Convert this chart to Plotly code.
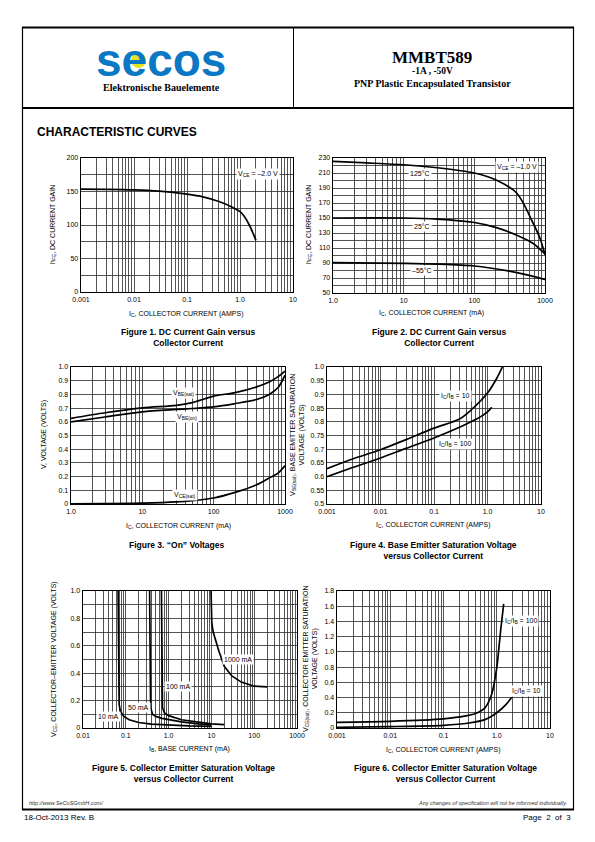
import numpy as np
import plotly.graph_objects as go

W, H = 595, 842

# ---------------- data ----------------
# Figure 1: DC current gain vs collector current (AMPS), VCE = -2.0 V
f1_ic = [0.001, 0.003, 0.01, 0.03, 0.1, 0.2, 0.4, 0.7, 1.0, 1.2, 1.5, 1.8, 2.0]
f1_hfe = [153.5, 153.3, 152.5, 150.5, 146, 142, 135, 127, 120, 113, 100, 86, 77]
f1_xticklabels = ["0.001", "0.01", "0.1", "1.0", "10"]
f1_yticklabels = ["0", "50", "100", "150", "200"]

# Figure 2: DC current gain vs collector current (mA), VCE = -1.0 V
f2_ic_125 = [1, 3, 10, 30, 100, 200, 400, 680, 850, 1000]
f2_hfe_125 = [225.5, 223.5, 221, 217, 210, 201, 183, 143, 123, 101]
f2_ic_25 = [1, 10, 30, 100, 200, 400, 680, 1000]
f2_hfe_25 = [150, 150, 148.5, 144, 137.5, 127, 116, 102]
f2_ic_m55 = [1, 10, 30, 100, 300, 600, 1000]
f2_hfe_m55 = [90.6, 89.5, 88.5, 86, 79.5, 73.5, 68]
f2_xticklabels = ["1.0", "10", "100", "1000"]
f2_yticklabels = ["50", "70", "90", "110", "130", "150", "170", "190", "210", "230"]

# Figure 3: "On" voltages vs collector current (mA)
f3_ic = [1, 3, 10, 30, 50, 100, 200, 400, 600, 800, 1000]
f3_vbe_sat = [0.625, 0.666, 0.702, 0.72, 0.74, 0.787, 0.813, 0.855, 0.89, 0.93, 0.97]
f3_vbe_on = [0.60, 0.635, 0.673, 0.69, 0.697, 0.709, 0.733, 0.763, 0.80, 0.85, 0.94]
f3_vce_sat = [0.002, 0.003, 0.006, 0.015, 0.024, 0.044, 0.085, 0.14, 0.19, 0.225, 0.28]
f3_xticklabels = ["1.0", "10", "100", "1000"]
f3_yticklabels = ["0", "0.1", "0.2", "0.3", "0.4", "0.5", "0.6", "0.7", "0.8", "0.9", "1.0"]

# Figure 4: base emitter saturation voltage vs collector current (AMPS)
f4_ic_10 = [0.001, 0.003, 0.01, 0.03, 0.1, 0.3, 0.5, 1.0, 1.5, 1.9]
f4_v_10 = [0.629, 0.664, 0.698, 0.735, 0.777, 0.81, 0.844, 0.905, 0.96, 1.0]
f4_ic_100 = [0.001, 0.003, 0.01, 0.03, 0.1, 0.3, 0.6, 1.0, 1.2]
f4_v_100 = [0.60, 0.633, 0.668, 0.703, 0.741, 0.78, 0.808, 0.836, 0.853]
f4_xticklabels = ["0.001", "0.01", "0.1", "1.0", "10"]
f4_yticklabels = ["0.5", "0.55", "0.6", "0.65", "0.7", "0.75", "0.8", "0.85", "0.9", "0.95", "1.0"]

# Figure 5: collector emitter voltage vs base current (mA)
f5_ib_10 = [0.066, 0.067, 0.068, 0.07, 0.075, 0.09, 0.12, 0.2, 0.4, 1, 3, 10]
f5_v_10 = [1.0, 0.6, 0.3, 0.17, 0.12, 0.085, 0.06, 0.04, 0.028, 0.02, 0.015, 0.012]
f5_ib_50 = [0.36, 0.365, 0.37, 0.38, 0.42, 0.5, 0.7, 1, 2, 5, 10]
f5_v_50 = [1.0, 0.6, 0.3, 0.15, 0.1, 0.085, 0.07, 0.06, 0.045, 0.03, 0.022]
f5_ib_100 = [0.68, 0.69, 0.7, 0.72, 0.8, 1, 2, 5, 10, 20]
f5_v_100 = [1.0, 0.6, 0.3, 0.15, 0.11, 0.09, 0.06, 0.04, 0.03, 0.025]
f5_ib_1000 = [9.8, 9.9, 10.2, 11, 13, 15, 20, 30, 50, 100, 200]
f5_v_1000 = [1.0, 0.85, 0.77, 0.7, 0.62, 0.56, 0.45, 0.38, 0.335, 0.305, 0.3]
f5_xticklabels = ["0.01", "0.1", "1.0", "10", "100", "1000"]
f5_yticklabels = ["0", "0.2", "0.4", "0.6", "0.8", "1.0"]

# Figure 6: collector emitter saturation voltage vs collector current (AMPS)
f6_ic_100 = [0.001, 0.01, 0.1, 0.2, 0.4, 0.6, 0.8, 1.0, 1.1, 1.2, 1.35]
f6_v_100 = [0.075, 0.088, 0.12, 0.145, 0.19, 0.265, 0.44, 0.79, 1.06, 1.32, 1.63]
f6_ic_10 = [0.001, 0.01, 0.1, 0.3, 0.6, 1.0, 1.5, 1.9]
f6_v_10 = [0.01, 0.018, 0.035, 0.066, 0.11, 0.2, 0.31, 0.40]
f6_xticklabels = ["0.001", "0.01", "0.1", "1.0", "10"]
f6_yticklabels = ["0", "0.2", "0.4", "0.6", "0.8", "1.0", "1.2", "1.4", "1.6", "1.8"]

# ---------------- helpers ----------------
FONT = "Liberation Sans"
SERIF = "Liberation Serif"


def px(x):
    return x / W


def py(y):
    return 1 - y / H


def log_ticks(lo, hi, labels):
    vals, text = [], []
    for i, e in enumerate(range(lo, hi)):
        for m in range(1, 10):
            vals.append(m * 10.0 ** e)
            text.append(labels[i] if m == 1 else "")
    vals.append(10.0 ** hi)
    text.append(labels[-1])
    return vals, text


def lin_ticks(lo, step, n, labels, every):
    vals = [round(lo + k * step, 6) for k in range(n)]
    text = [labels[k // every] if k % every == 0 else "" for k in range(n)]
    return vals, text


fig = go.Figure()
layout = dict(
    width=W, height=H, autosize=False,
    margin=dict(l=0, r=0, t=0, b=0, pad=0, autoexpand=False),
    paper_bgcolor="white", plot_bgcolor="white", showlegend=False,
    annotations=[], shapes=[],
)

axis_common = dict(
    showline=True, linecolor="black", linewidth=1.4, mirror=True,
    showgrid=True, gridcolor="#2a2a2a", gridwidth=0.8, ticks="",
    tickfont=dict(family=FONT, size=7, color="black"), zeroline=False,
    fixedrange=True, tickmode="array", automargin=False,
)

panels = [
    # (pixel box x0,x1,y0,y1), x log range, x ticks, y range, y ticks
    dict(box=(81, 293, 158, 292), xr=(-3, 1), xl=f1_xticklabels,
         yr=(0, 200), yt=lin_ticks(0, 25, 9, f1_yticklabels, 2)),
    dict(box=(333, 545, 158, 293), xr=(0, 3), xl=f2_xticklabels,
         yr=(50, 230), yt=lin_ticks(50, 10, 19, f2_yticklabels, 2)),
    dict(box=(71, 285, 367, 504), xr=(0, 3), xl=f3_xticklabels,
         yr=(0, 1.0), yt=lin_ticks(0, 0.1, 11, f3_yticklabels, 1)),
    dict(box=(327, 541, 367, 504), xr=(-3, 1), xl=f4_xticklabels,
         yr=(0.5, 1.0), yt=lin_ticks(0.5, 0.05, 11, f4_yticklabels, 1)),
    dict(box=(83, 297, 591, 728), xr=(-2, 3), xl=f5_xticklabels,
         yr=(0, 1.0), yt=lin_ticks(0, 0.1, 11, f5_yticklabels, 2)),
    dict(box=(337, 550, 591, 728), xr=(-3, 1), xl=f6_xticklabels,
         yr=(0, 1.8), yt=lin_ticks(0, 0.2, 10, f6_yticklabels, 1)),
]

for i, p in enumerate(panels, start=1):
    x0, x1, y0, y1 = p["box"]
    xv, xt = log_ticks(p["xr"][0], p["xr"][1], p["xl"])
    yv, yt = p["yt"]
    sx = "" if i == 1 else str(i)
    layout["xaxis" + sx] = dict(axis_common, type="log", range=list(p["xr"]),
                                domain=[px(x0), px(x1)], anchor="y" + sx,
                                tickvals=xv, ticktext=xt)
    layout["yaxis" + sx] = dict(axis_common, range=list(p["yr"]),
                                domain=[py(y1), py(y0)], anchor="x" + sx,
                                tickvals=yv, ticktext=yt)


def curve(x, y, n, shape="spline"):
    sx = "" if n == 1 else str(n)
    fig.add_trace(go.Scatter(x=x, y=y, mode="lines", xaxis="x" + sx, yaxis="y" + sx,
                             line=dict(color="black", width=1.7, shape=shape,
                                       smoothing=0.8), hoverinfo="skip"))


curve(f1_ic, f1_hfe, 1)
curve(f2_ic_125, f2_hfe_125, 2)
curve(f2_ic_25, f2_hfe_25, 2)
curve(f2_ic_m55, f2_hfe_m55, 2)
curve(f3_ic, f3_vbe_sat, 3)
curve(f3_ic, f3_vbe_on, 3)
curve(f3_ic, f3_vce_sat, 3)
curve(f4_ic_10, f4_v_10, 4)
curve(f4_ic_100, f4_v_100, 4)
curve(f5_ib_10, f5_v_10, 5, "linear")
curve(f5_ib_50, f5_v_50, 5, "linear")
curve(f5_ib_100, f5_v_100, 5, "linear")
curve(f5_ib_1000, f5_v_1000, 5, "linear")
curve(f6_ic_100, f6_v_100, 6)
curve(f6_ic_10, f6_v_10, 6)

A = layout["annotations"]


def label(text, n, x, y, size=7, bg=True):
    sx = "" if n == 1 else str(n)
    A.append(dict(text=text, x=np.log10(x), y=y, xref="x" + sx, yref="y" + sx,
                  showarrow=False, font=dict(family=FONT, size=size, color="black"),
                  bgcolor="white" if bg else None, borderpad=1))


label("V<sub>CE</sub> = –2.0 V", 1, 2.2, 176)
label("V<sub>CE</sub> = –1.0 V", 2, 400, 218)
label("125°C", 2, 17, 208.7)
label("25°C", 2, 18, 139.3)
label("–55°C", 2, 18, 79.7)
label("V<sub>BE(sat)</sub>", 3, 38, 0.81)
label("V<sub>BE(on)</sub>", 3, 42, 0.637)
label("V<sub>CE(sat)</sub>", 3, 40, 0.068)
label("I<sub>C</sub>/I<sub>B</sub> = 10", 4, 0.25, 0.893)
label("I<sub>C</sub>/I<sub>B</sub> = 100", 4, 0.25, 0.72)
label("10 mA", 5, 0.04, 0.085)
label("50 mA", 5, 0.2, 0.15)
label("100 mA", 5, 1.7, 0.30)
label("1000 mA", 5, 41, 0.50)
label("I<sub>C</sub>/I<sub>B</sub> = 100", 6, 2.9, 1.41)
label("I<sub>C</sub>/I<sub>B</sub> = 10", 6, 3.6, 0.49)


def text(t, x, y, size, family=FONT, bold=False, italic=False, anchor="center",
         color="black", angle=0):
    if bold:
        t = "<b>" + t.replace("<br>", "</b><br><b>") + "</b>"
    if italic:
        t = "<i>" + t + "</i>"
    A.append(dict(text=t, x=px(x), y=py(y), xref="paper", yref="paper",
                  showarrow=False, xanchor=anchor, yanchor="middle",
                  textangle=angle, align="center",
                  font=dict(family=family, size=size, color=color)))


# axis titles
text("I<sub>C</sub>, COLLECTOR CURRENT (AMPS)", 186, 314, 7)
text("I<sub>C</sub>, COLLECTOR CURRENT (mA)", 431, 313, 7)
text("I<sub>C</sub>, COLLECTOR CURRENT (mA)", 178, 526, 7)
text("I<sub>C</sub>, COLLECTOR CURRENT (AMPS)", 433, 525, 7)
text("I<sub>B</sub>, BASE CURRENT (mA)", 189, 749, 7)
text("I<sub>C</sub>, COLLECTOR CURRENT (AMPS)", 443, 750, 7)

text("h<sub>FE</sub>, DC CURRENT GAIN", 53, 225, 7, angle=-90)
text("h<sub>FE</sub>, DC CURRENT GAIN", 309, 225, 7, angle=-90)
text("V, VOLTAGE (VOLTS)", 44, 435, 7, angle=-90)
text("V<sub>BE(sat)</sub>, BASE EMITTER SATURATION<br>VOLTAGE (VOLTS)", 297, 435, 7, angle=-90)
text("V<sub>CE</sub>, COLLECTOR–EMITTER VOLTAGE (VOLTS)", 54, 659, 7, angle=-90)
text("V<sub>CE(sat)</sub>, COLLECTOR EMITTER SATURATION<br>VOLTAGE (VOLTS)", 310, 659, 7, angle=-90)

# captions
text("Figure 1. DC Current Gain versus<br>Collector Current", 188, 337, 8.5, bold=True)
text("Figure 2. DC Current Gain versus<br>Collector Current", 439, 337, 8.5, bold=True)
text("Figure 3. “On” Voltages", 177, 545, 8.5, bold=True)
text("Figure 4. Base Emitter Saturation Voltage<br>versus Collector Current", 433, 550, 8.5, bold=True)
text("Figure 5. Collector Emitter Saturation Voltage<br>versus Collector Current", 183, 773, 8.5, bold=True)
text("Figure 6. Collector Emitter Saturation Voltage<br>versus Collector Current", 445, 773, 8.5, bold=True)

# header
text("MMBT589", 432, 57, 17, family=SERIF, bold=True)
text("-1A , -50V", 432, 71, 9.5, family=SERIF, bold=True)
text("PNP Plastic Encapsulated Transistor", 432, 83, 10, family=SERIF, bold=True)
text("Elektronische Bauelemente", 161, 87, 10, family=SERIF, bold=True)
text("CHARACTERISTIC CURVES", 35, 132, 12, bold=True, anchor="left")

# footer
text("http://www.SeCoSGmbH.com/", 27, 803, 5.5, italic=True, anchor="left", color="#333")
text("Any changes of specification will not be informed individually.", 569, 803, 5.5,
     italic=True, anchor="right", color="#333")
text("18-Oct-2013 Rev. B", 22, 817, 8, anchor="left")
text("Page  2  of  3", 573, 817, 8, anchor="right")

# logo
S = layout["shapes"]
S.append(dict(type="circle", xref="paper", yref="paper", x0=px(131), x1=px(146),
              y0=py(68), y1=py(53), fillcolor="#e6e21c", line=dict(width=0), layer="above"))
text("<b>secos</b>", 161, 60, 46, family="Liberation Sans", color="#0a78c4")

# frame lines
def hline(x0, x1, y, w):
    S.append(dict(type="line", xref="paper", yref="paper", x0=px(x0), x1=px(x1),
                  y0=py(y), y1=py(y), line=dict(color="black", width=w)))


def vline(x, y0, y1, w):
    S.append(dict(type="line", xref="paper", yref="paper", x0=px(x), x1=px(x),
                  y0=py(y0), y1=py(y1), line=dict(color="black", width=w)))


hline(22, 574, 27.5, 2)
hline(22, 574, 108, 2)
hline(22, 574, 809.5, 2)
vline(22.5, 27, 810, 1.2)
vline(573.5, 27, 810, 1.2)
vline(293.5, 27, 108, 1)

fig.update_layout(**layout)
fig.write_html("out.html", config={"displayModeBar": False, "staticPlot": True},
               post_script="document.body.style.margin='0';document.body.style.overflow='hidden';")
